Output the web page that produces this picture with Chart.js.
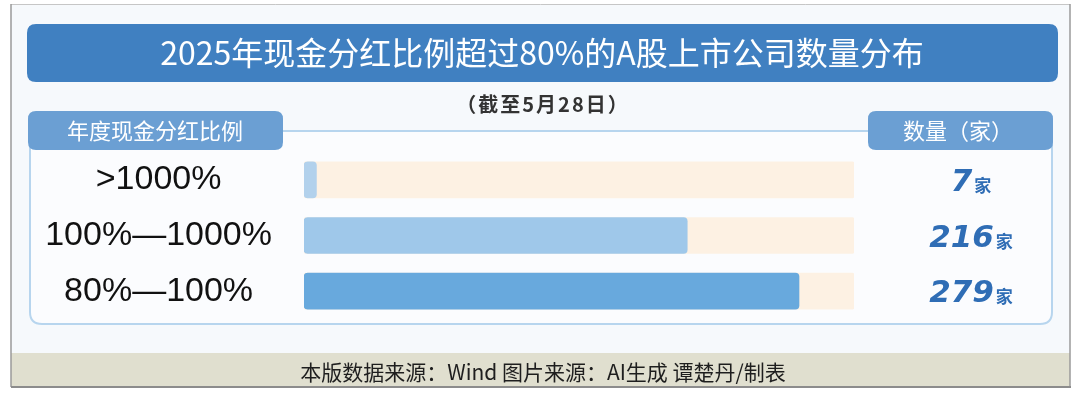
<!DOCTYPE html>
<html>
<head>
<meta charset="utf-8">
<script src="https://cdn.jsdelivr.net/npm/chart.js@4/dist/chart.umd.min.js"></script>
<style>
  html, body { margin: 0; padding: 0; background: #fff; }
  canvas { display: block; }
</style>
</head>
<body>
<canvas id="chart" width="1080" height="396"></canvas>
<script>
// data
var categories = [">1000%", "100%\u20141000%", "80%\u2014100%"];
var counts = [7, 216, 279];
var unit = "家";
var xMax = 310; // track length in companies

var title = "2025年现金分红比例超过80%的A股上市公司数量分布";
var subtitle = "（截至5月28日）";
var leftHeader = "年度现金分红比例";
var rightHeader = "数量（家）";
var footer = "本版数据来源：Wind 图片来源：AI生成 谭楚丹/制表";

var barColors = ["#b2d1ec", "#9fc8ea", "#68a9dd"];
var trackColor = "#fdf1e3";
var CJK = "'Noto Sans CJK SC', 'Noto Sans', sans-serif";

function roundRect(ctx, x, y, w, h, r) {
    ctx.beginPath();
    ctx.moveTo(x + r, y);
    ctx.lineTo(x + w - r, y);
    ctx.quadraticCurveTo(x + w, y, x + w, y + r);
    ctx.lineTo(x + w, y + h - r);
    ctx.quadraticCurveTo(x + w, y + h, x + w - r, y + h);
    ctx.lineTo(x + r, y + h);
    ctx.quadraticCurveTo(x, y + h, x, y + h - r);
    ctx.lineTo(x, y + r);
    ctx.quadraticCurveTo(x, y, x + r, y);
    ctx.closePath();
}

// frame, banner, headers and footer behind the chart
var backdrop = {
    id: "backdrop",
    beforeDraw: function(chart) {
        var ctx = chart.ctx;
        ctx.save();
        ctx.fillStyle = "#ffffff";
        ctx.fillRect(0, 0, 1080, 396);

        // outer frame
        ctx.fillStyle = "#f6f9fc";
        ctx.fillRect(11, 4, 1059, 383);
        ctx.fillStyle = "#e0dfcf";
        ctx.fillRect(11, 353, 1059, 34);
        ctx.strokeStyle = "#c6c6c6";
        ctx.lineWidth = 1;
        ctx.beginPath();
        ctx.moveTo(11, 4.5); ctx.lineTo(1070, 4.5);
        ctx.stroke();
        ctx.strokeStyle = "#9a9a9a";
        ctx.lineWidth = 1.5;
        ctx.beginPath();
        ctx.moveTo(11, 4); ctx.lineTo(11, 387);
        ctx.moveTo(1070, 4); ctx.lineTo(1070, 387);
        ctx.stroke();
        ctx.strokeStyle = "#8c8c8c";
        ctx.lineWidth = 2;
        ctx.beginPath();
        ctx.moveTo(11, 387); ctx.lineTo(1071, 387);
        ctx.stroke();

        // title banner
        roundRect(ctx, 27, 24, 1031, 58, 9);
        ctx.fillStyle = "#4080c1";
        ctx.fill();
        ctx.fillStyle = "#ffffff";
        ctx.font = "32px " + CJK;
        ctx.textAlign = "center";
        ctx.textBaseline = "middle";
        ctx.fillText(title, 542, 53);

        // subtitle
        ctx.fillStyle = "#333333";
        ctx.font = "bold 20px " + CJK;
        ctx.letterSpacing = "2px";
        ctx.fillText(subtitle, 543, 104);
        ctx.letterSpacing = "0px";

        // panel
        roundRect(ctx, 30, 131, 1022, 193, 12);
        ctx.fillStyle = "#fbfcfe";
        ctx.fill();
        ctx.strokeStyle = "#b7d5ee";
        ctx.lineWidth = 2;
        ctx.stroke();

        // header pills
        ctx.fillStyle = "#6b9fd3";
        roundRect(ctx, 28, 111, 255, 39, 8);
        ctx.fill();
        roundRect(ctx, 868, 111, 185, 39, 8);
        ctx.fill();
        ctx.fillStyle = "#ffffff";
        ctx.font = "22px " + CJK;
        ctx.fillText(leftHeader, 155, 131);
        ctx.fillText(rightHeader, 958, 131);

        // footer
        ctx.fillStyle = "#1e1e1e";
        ctx.font = "21px " + CJK;
        ctx.fillText(footer, 543, 372);
        ctx.restore();
    }
};

// "216家" style value labels on the right
var valueLabels = {
    id: "valueLabels",
    afterDatasetsDraw: function(chart) {
        var ctx = chart.ctx;
        var meta = chart.getDatasetMeta(0);
        ctx.save();
        ctx.fillStyle = "#2f6db5";
        ctx.textAlign = "left";
        ctx.textBaseline = "alphabetic";
        meta.data.forEach(function(bar, i) {
            var num = String(counts[i]);
            ctx.font = "italic bold 31px 'DejaVu Sans', sans-serif";
            var wn = ctx.measureText(num).width;
            ctx.font = "bold 17px " + CJK;
            var wj = ctx.measureText(unit).width;
            var x0 = 971 - (wn + 2 + wj) / 2;
            var base = bar.y + 11;
            ctx.font = "italic bold 31px 'DejaVu Sans', sans-serif";
            ctx.fillText(num, x0, base);
            ctx.font = "bold 17px " + CJK;
            ctx.fillText(unit, x0 + wn + 2, base + 1);
        });
        ctx.restore();
    }
};

var ctx = document.getElementById("chart").getContext("2d");
var chart = new Chart(ctx, {
    type: "bar",
    data: {
        labels: categories,
        datasets: [{
            data: counts,
            backgroundColor: barColors,
            borderRadius: 4,
            borderSkipped: false,
            barThickness: 36,
            grouped: false
        }, {
            data: categories.map(function() { return xMax; }),
            backgroundColor: trackColor,
            borderRadius: 2,
            borderSkipped: false,
            barThickness: 36,
            grouped: false
        }]
    },
    options: {
        indexAxis: "y",
        responsive: false,
        animation: false,
        layout: { padding: { left: 15, right: 226, top: 152, bottom: 77 } },
        plugins: { legend: { display: false }, tooltip: { enabled: false } },
        scales: {
            x: { display: false, min: 0, max: xMax },
            y: {
                grid: { display: false, drawTicks: false },
                border: { display: false },
                ticks: {
                    color: "#111111",
                    font: { family: "'Liberation Sans', Arial, sans-serif", size: 34 },
                    crossAlign: "center",
                    padding: 32
                },
                afterFit: function(scale) { scale.width = 289; }
            }
        }
    },
    plugins: [backdrop, valueLabels]
});
</script>
</body>
</html>
